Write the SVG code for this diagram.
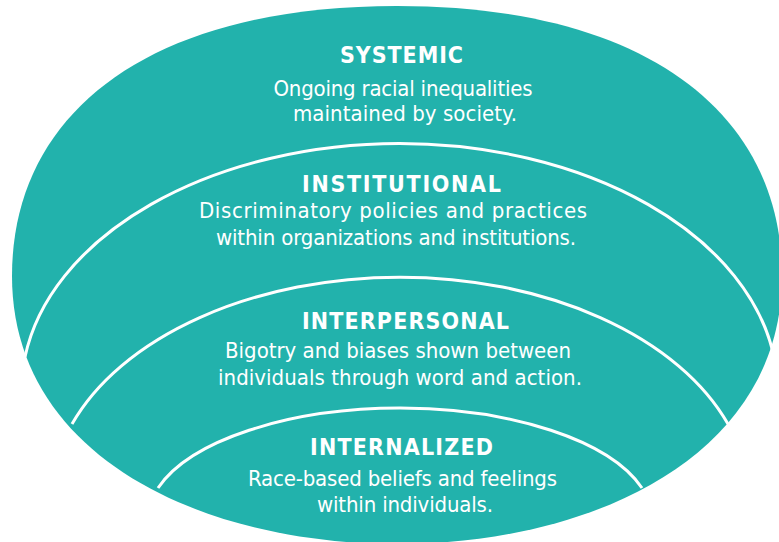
<svg xmlns="http://www.w3.org/2000/svg" width="779" height="542" viewBox="0 0 779 542">
<style>
.shape{fill:#22b2ac}
.divider{fill:none;stroke:#ffffff;stroke-width:3}
.title{font-family:"DejaVu Sans Condensed","DejaVu Sans",sans-serif;font-stretch:condensed;font-weight:700;font-size:23px;fill:#ffffff;text-anchor:middle}
.body{font-family:"DejaVu Sans Condensed","DejaVu Sans",sans-serif;font-stretch:condensed;font-weight:400;font-size:22px;fill:#ffffff;text-anchor:middle}
</style>
<rect width="779" height="542" fill="#ffffff"/>
<g id="layer-systemic">
<path class="shape" d="M12,276 C12,114 147,6 397,6 C647,6 782,114 782,276 C782,458 589.5,544 397,544 C204.5,544 12,458 12,276 Z"/>
<text class="title" x="401.5" y="63" textLength="123" lengthAdjust="spacing">SYSTEMIC</text>
<text class="body" x="403" y="96" textLength="259" lengthAdjust="spacing">Ongoing racial inequalities</text>
<text class="body" x="405" y="121" textLength="224" lengthAdjust="spacing">maintained by society.</text>
</g>
<g id="layer-institutional">
<path class="divider" d="M25,357 A378,247 0 0 1 774,357"/>
<text class="title" x="401.5" y="192" textLength="199" lengthAdjust="spacing">INSTITUTIONAL</text>
<text class="body" x="393" y="218" textLength="388" lengthAdjust="spacing">Discriminatory policies and practices</text>
<text class="body" x="396" y="245" textLength="360" lengthAdjust="spacing">within organizations and institutions.</text>
</g>
<g id="layer-interpersonal">
<path class="divider" d="M72,424 A349,223 0 0 1 728,424"/>
<text class="title" x="405.5" y="329" textLength="207" lengthAdjust="spacing">INTERPERSONAL</text>
<text class="body" x="398" y="358" textLength="346" lengthAdjust="spacing">Bigotry and biases shown between</text>
<text class="body" x="400" y="385" textLength="364" lengthAdjust="spacing">individuals through word and action.</text>
</g>
<g id="layer-internalized">
<path class="divider" d="M158,488 A252.6,112 0 0 1 642,488"/>
<text class="title" x="401.5" y="455" textLength="183" lengthAdjust="spacing">INTERNALIZED</text>
<text class="body" x="402.5" y="486" textLength="309" lengthAdjust="spacing">Race-based beliefs and feelings</text>
<text class="body" x="405" y="512" textLength="176" lengthAdjust="spacing">within individuals.</text>
</g>
</svg>
